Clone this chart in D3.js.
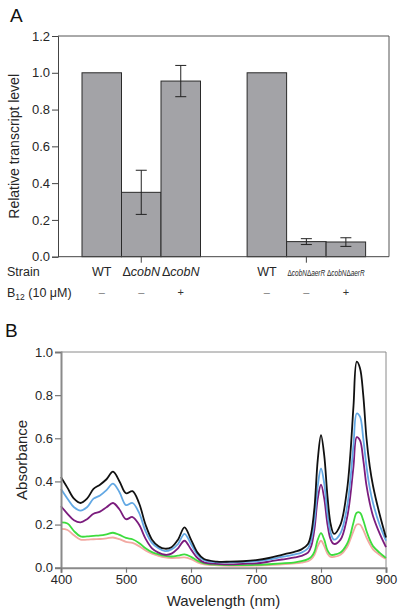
<!DOCTYPE html>
<html><head><meta charset="utf-8">
<script src="https://cdn.jsdelivr.net/npm/d3@7"></script>
<style>
html,body{margin:0;padding:0;background:#fff;}
svg{display:block;font-family:"Liberation Sans",Arial,sans-serif;}
</style></head>
<body><svg id="c" width="400" height="613"></svg>
<script>
// ---------- Panel A data ----------
const barStrains = ["WT","ΔcobN","ΔcobN","WT","ΔcobNΔaerR","ΔcobNΔaerR"];
const barGroup   = [0,0,0,1,1,1];
const barB12     = ["–","–","+","–","–","+"];
const barValues  = [1.0, 0.35, 0.955, 1.0, 0.082, 0.08];
const barErrLow  = [null, 0.23, 0.87, null, 0.066, 0.056];
const barErrHigh = [null, 0.47, 1.04, null, 0.098, 0.103];
const yTicksA    = [0,0.2,0.4,0.6,0.8,1.0,1.2];

// ---------- Panel B data ----------
const wavelengths = [400,410,420,430,440,450,460,470,480,490,500,510,520,530,540,550,560,570,580,590,600,610,620,
  640,660,680,700,720,740,760,
  770,780,785,790,795,800,805,810,815,820,
  830,840,845,850,855,860,865,870,875,880,890,900];
const absBlack = [.42,.37,.32,.30,.32,.365,.385,.41,.445,.40,.345,.355,.30,.20,.13,.10,.088,.095,.13,.187,.13,.07,.04,
  .028,.028,.03,.035,.045,.06,.075,
  .085,.11,.16,.28,.50,.615,.52,.33,.20,.157,
  .20,.36,.52,.75,.955,.925,.80,.60,.47,.38,.25,.14];
const absBlue = [.365,.32,.28,.265,.28,.32,.335,.36,.39,.35,.29,.30,.255,.17,.115,.09,.077,.085,.11,.157,.11,.06,.035,
  .025,.025,.027,.03,.038,.05,.062,
  .07,.09,.13,.22,.38,.46,.39,.25,.16,.13,
  .16,.28,.40,.57,.715,.70,.60,.47,.37,.30,.20,.125];
const absPurple = [.285,.25,.22,.21,.225,.25,.26,.28,.30,.27,.225,.235,.20,.135,.09,.07,.06,.065,.09,.125,.085,.045,.025,
  .018,.015,.018,.02,.028,.038,.048,
  .055,.07,.10,.18,.32,.385,.32,.20,.13,.11,
  .13,.23,.33,.47,.605,.59,.50,.38,.30,.24,.16,.095];
const absGreen = [.21,.205,.17,.145,.145,.148,.15,.155,.162,.152,.138,.132,.115,.09,.072,.062,.055,.052,.056,.062,.05,.032,.02,
  .014,.012,.012,.013,.016,.02,.025,
  .03,.04,.05,.075,.13,.16,.13,.08,.06,.06,
  .07,.11,.15,.21,.255,.255,.22,.17,.13,.10,.07,.045];
const absPink = [.18,.175,.15,.13,.13,.132,.133,.136,.14,.132,.12,.115,.10,.08,.065,.055,.048,.045,.046,.048,.04,.025,.016,
  .011,.009,.009,.01,.012,.015,.02,
  .024,.03,.04,.06,.10,.125,.10,.065,.05,.05,
  .06,.095,.13,.17,.20,.20,.175,.14,.11,.085,.06,.04];
const seriesB = [
  {name:"pink",   color:"#f2a9a2", values:absPink},
  {name:"green",  color:"#3ddc3d", values:absGreen},
  {name:"purple", color:"#7b1c7d", values:absPurple},
  {name:"blue",   color:"#62a8e4", values:absBlue},
  {name:"black",  color:"#111111", values:absBlack}
];
const yTicksB = [0,0.2,0.4,0.6,0.8,1.0];
const xTicksB = [400,500,600,700,800,900];

const svg = d3.select("#c");
const txt = "#262626";

// ================= Panel A =================
const A = {l:58, r:389, t:36, b:256.7};
const yA = d3.scaleLinear().domain([0,1.2]).range([A.b, A.t]);
const slotW = 39.5, groupGap = 2.18;
const slotPos = barValues.map((v,i)=> i + barGroup[i]*(groupGap-1));
const xA = d3.scaleLinear().domain([0,1]).range([82, 82+slotW]);

svg.append("text").attr("x",10).attr("y",22).attr("font-size",19).attr("fill","#111").text("A");

const gA = svg.append("g");
gA.selectAll("rect.bar").data(barValues).join("rect")
  .attr("x",(d,i)=>xA(slotPos[i])).attr("width",slotW)
  .attr("y",d=>yA(d)).attr("height",d=>A.b-yA(d))
  .attr("fill","#a3a3a7").attr("stroke","#2a2a2a").attr("stroke-width",1);
barValues.forEach((v,i)=>{
  if(barErrLow[i]==null) return;
  const cx = xA(slotPos[i]+0.5);
  const g = gA.append("g").attr("stroke","#222").attr("stroke-width",1);
  g.append("line").attr("x1",cx).attr("x2",cx).attr("y1",yA(barErrLow[i])).attr("y2",yA(barErrHigh[i]));
  [barErrLow[i],barErrHigh[i]].forEach(e=>g.append("line").attr("x1",cx-5.5).attr("x2",cx+5.5).attr("y1",yA(e)).attr("y2",yA(e)));
});
gA.append("path").attr("d",`M${A.l},${A.t}H${A.r}V${A.b}`).attr("fill","none").attr("stroke","#555").attr("stroke-width",1);
const axA = gA.append("g").attr("transform",`translate(${A.l},0)`)
  .call(d3.axisLeft(yA).tickValues(yTicksA).tickFormat(d3.format(".1f")).tickSize(6).tickPadding(2));
axA.select(".domain").attr("stroke","#444");
axA.selectAll(".tick line").attr("stroke","#444");
axA.selectAll("text").attr("font-size",13).attr("fill",txt).attr("font-family","Liberation Sans, Arial, sans-serif");
gA.append("line").attr("x1",A.l).attr("x2",A.r).attr("y1",A.b).attr("y2",A.b).attr("stroke","#444");
[1,4].forEach(i=>{
  const cx = xA(slotPos[i]+0.5);
  gA.append("line").attr("x1",cx).attr("x2",cx).attr("y1",A.b).attr("y2",A.b+6).attr("stroke","#444");
});
svg.append("text").attr("transform",`translate(19,${(A.t+A.b)/2}) rotate(-90)`)
  .attr("text-anchor","middle").attr("font-size",14).attr("fill",txt).text("Relative transcript level");

svg.append("text").attr("x",7).attr("y",276).attr("font-size",12.5).attr("fill",txt).text("Strain");
const b12 = svg.append("text").attr("x",7).attr("y",297).attr("font-size",12.5).attr("fill",txt);
b12.append("tspan").text("B");
b12.append("tspan").attr("font-size",8.5).attr("dy",3).text("12");
b12.append("tspan").attr("dy",-3).text(" (10 μM)");

barStrains.forEach((s,i)=>{
  const cx = xA(slotPos[i]+0.5);
  const small = s.length>6;
  const t = svg.append("text").attr("text-anchor","middle")
    .attr("transform", small ? `translate(${cx},276) scale(0.76,1)` : `translate(${cx},276)`)
    .attr("font-size", small?8.5:12.5).attr("fill",txt);
  if(s==="WT"){ t.text("WT"); }
  else {
    const parts = s.split("Δ").filter(p=>p.length);
    parts.forEach(p=>{
      t.append("tspan").attr("font-style","normal").text("Δ");
      t.append("tspan").attr("font-style","italic").text(p);
    });
  }
  svg.append("text").attr("x",cx).attr("y",296).attr("text-anchor","middle")
    .attr("font-size",11).attr("fill", barB12[i]==="+"?"#333":"#777").text(barB12[i]);
});

// ================= Panel B =================
const B = {l:61, r:386, t:352, b:567.7};
const xB = d3.scaleLinear().domain([400,900]).range([B.l,B.r]);
const yB = d3.scaleLinear().domain([0,1]).range([B.b,B.t]);
svg.append("text").attr("x",5).attr("y",337).attr("font-size",19).attr("fill","#111").text("B");
const gB = svg.append("g");
gB.append("path").attr("d",`M${B.l},${B.t}H${B.r}V${B.b}`).attr("fill","none").attr("stroke","#8a8a8a").attr("stroke-width",1);

const line = d3.line().x((d,i)=>xB(wavelengths[i])).y(d=>yB(d)).curve(d3.curveCatmullRom.alpha(0.5));
gB.selectAll("path.s").data(seriesB).join("path")
  .attr("fill","none").attr("stroke",d=>d.color).attr("stroke-width",1.8)
  .attr("stroke-linejoin","round").attr("d",d=>line(d.values));

const axBy = gB.append("g").attr("transform",`translate(${B.l},0)`)
  .call(d3.axisLeft(yB).tickValues(yTicksB).tickFormat(d3.format(".1f")).tickSize(6).tickPadding(2));
const axBx = gB.append("g").attr("transform",`translate(0,${B.b})`)
  .call(d3.axisBottom(xB).tickValues(xTicksB).tickSize(5).tickPadding(2));
[axBy,axBx].forEach(a=>{
  a.select(".domain").attr("stroke","#8a8a8a").attr("stroke-width",2);
  a.selectAll(".tick line").attr("stroke","#777").attr("stroke-width",1.2);
  a.selectAll("text").attr("font-size",13).attr("fill",txt).attr("font-family","Liberation Sans, Arial, sans-serif");
});
svg.append("text").attr("transform",`translate(27,${(B.t+B.b)/2}) rotate(-90)`)
  .attr("text-anchor","middle").attr("font-size",15).attr("fill",txt).text("Absorbance");
svg.append("text").attr("x",(B.l+B.r)/2).attr("y",606).attr("text-anchor","middle")
  .attr("font-size",15).attr("fill",txt).text("Wavelength (nm)");
</script></body></html>
